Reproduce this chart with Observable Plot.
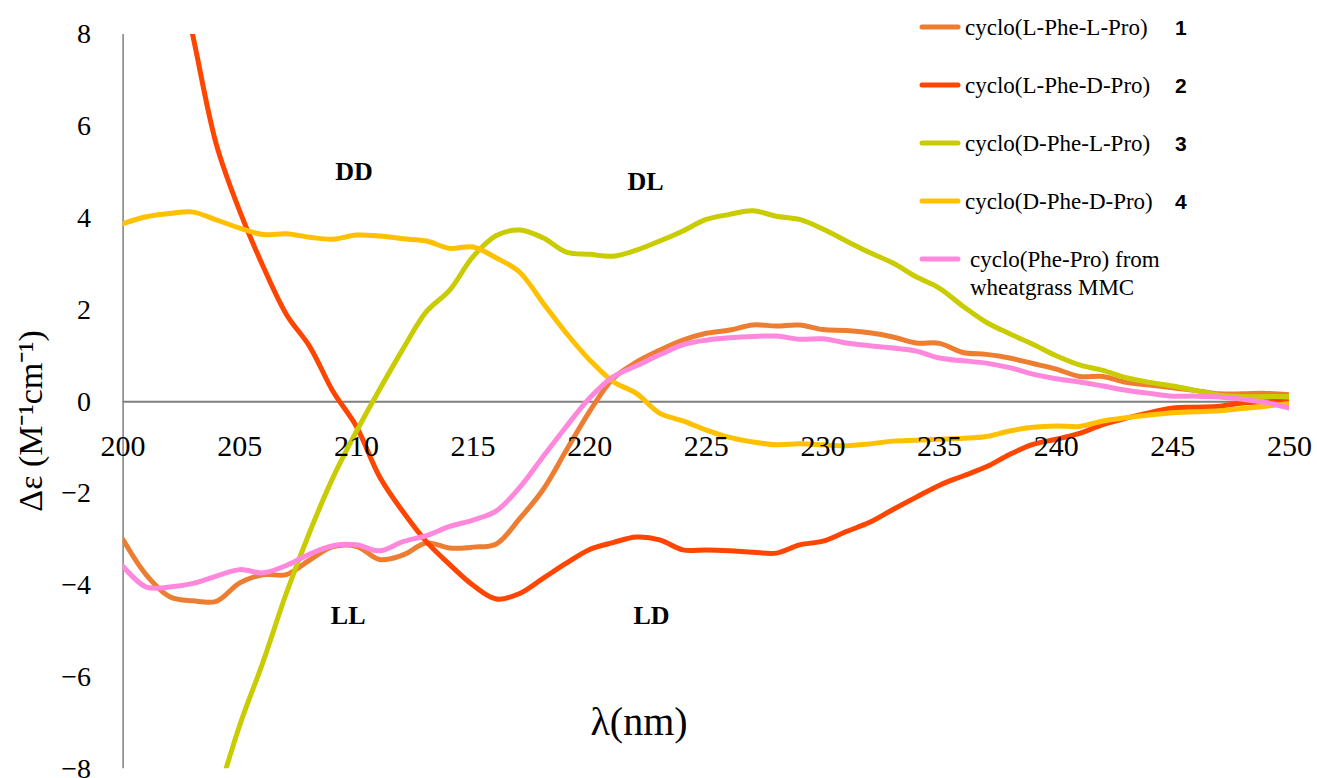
<!DOCTYPE html>
<html>
<head>
<meta charset="utf-8">
<script src="https://cdn.jsdelivr.net/npm/d3@7"></script>
<script src="https://cdn.jsdelivr.net/npm/@observablehq/plot@0.6"></script>
<style>
  html, body { margin: 0; padding: 0; background: #fff; }
  #chart { width: 1317px; height: 778px; }
</style>
</head>
<body>
<div id="chart"></div>
<script>
// ---- data ----
const wavelength = [200,201,202,203,204,205,206,207,208,209,210,211,212,213,214,215,216,217,218,219,220,221,222,223,224,225,226,227,228,229,230,231,232,233,234,235,236,237,238,239,240,241,242,243,244,245,246,247,248,249,250];

const seriesNames = [
  "cyclo(L-Phe-L-Pro)",
  "cyclo(L-Phe-D-Pro)",
  "cyclo(D-Phe-L-Pro)",
  "cyclo(D-Phe-D-Pro)",
  "cyclo(Phe-Pro) from wheatgrass MMC"
];
const seriesNumbers = ["1", "2", "3", "4", ""];
const seriesColors = ["#ED7D31", "#FF4500", "#C9CC00", "#FFC000", "#FF88DD"];

const LL = [-3.01,-3.78,-4.25,-4.34,-4.35,-3.95,-3.77,-3.77,-3.45,-3.16,-3.15,-3.44,-3.34,-3.08,-3.19,-3.17,-3.10,-2.55,-1.92,-1.06,-0.21,0.50,0.86,1.12,1.34,1.49,1.56,1.67,1.65,1.67,1.57,1.55,1.50,1.41,1.28,1.27,1.07,1.03,0.95,0.83,0.71,0.55,0.55,0.42,0.36,0.30,0.24,0.17,0.17,0.18,0.15];
const LD = [15.0,12.6,10.3,7.95,5.6,4.15,2.95,1.9,1.2,0.22,-0.54,-1.64,-2.4,-3.05,-3.55,-4.0,-4.3,-4.18,-3.85,-3.52,-3.22,-3.07,-2.95,-3.01,-3.23,-3.23,-3.25,-3.28,-3.30,-3.12,-3.04,-2.83,-2.63,-2.35,-2.08,-1.82,-1.62,-1.42,-1.15,-0.93,-0.82,-0.69,-0.50,-0.36,-0.24,-0.14,-0.12,-0.10,-0.03,0.0,0.0];
const DL = [-17.0,-14.7,-12.5,-10.5,-8.7,-7.05,-5.67,-4.17,-2.84,-1.65,-0.65,0.27,1.15,1.96,2.43,3.16,3.62,3.74,3.57,3.26,3.21,3.17,3.30,3.50,3.72,3.97,4.08,4.16,4.04,3.97,3.76,3.50,3.25,3.02,2.72,2.47,2.08,1.73,1.48,1.25,1.00,0.80,0.68,0.52,0.42,0.34,0.24,0.14,0.11,0.11,0.11];
const DD = [3.88,4.03,4.10,4.13,3.96,3.78,3.64,3.66,3.58,3.54,3.63,3.61,3.55,3.50,3.34,3.37,3.13,2.82,2.15,1.49,0.91,0.44,0.18,-0.25,-0.42,-0.62,-0.78,-0.88,-0.94,-0.92,-0.94,-0.96,-0.92,-0.86,-0.84,-0.82,-0.80,-0.76,-0.64,-0.56,-0.53,-0.54,-0.42,-0.35,-0.29,-0.24,-0.22,-0.20,-0.15,-0.10,-0.04];
const MMC = [-3.59,-4.04,-4.04,-3.96,-3.80,-3.66,-3.73,-3.57,-3.32,-3.14,-3.12,-3.25,-3.05,-2.92,-2.72,-2.58,-2.38,-1.87,-1.20,-0.54,0.08,0.54,0.78,1.02,1.24,1.34,1.39,1.42,1.43,1.36,1.37,1.28,1.22,1.17,1.10,0.95,0.89,0.84,0.74,0.60,0.50,0.43,0.34,0.25,0.18,0.12,0.12,0.10,0.05,-0.02,-0.14];

const xTicks = [200,205,210,215,220,225,230,235,240,245,250];
const yTicks = [-8,-6,-4,-2,0,2,4,6,8];

const regionText = ["DD", "DL", "LL", "LD"];
const regionX = [209.9, 222.4, 209.65, 222.65];
const regionY = [5.02, 4.80, -4.66, -4.66];

// ---- build tidy table ----
const valueArrays = [LL, LD, DL, DD, MMC];
const table = [];
valueArrays.forEach((arr, si) => {
  arr.forEach((v, i) => table.push({series: seriesNames[si], idx: si, x: wavelength[i], y: v}));
});
const regions = regionText.map((t, i) => ({text: t, x: regionX[i], y: regionY[i]}));
const fmt = d => d < 0 ? "\u2212" + Math.abs(d) : String(d);

const W = 1317, H = 778;
const serif = "'Liberation Serif', 'Times New Roman', serif";

const chart = Plot.plot({
  width: W,
  height: H,
  marginLeft: 122.6,
  marginRight: 28,
  marginTop: 34,
  marginBottom: 9.7,
  x: {domain: [200, 250], axis: null},
  y: {domain: [-8, 8], axis: null},
  color: {domain: seriesNames, range: seriesColors},
  style: {fontFamily: serif, background: "#fff", overflow: "visible"},
  marks: [
    Plot.ruleX([200], {y1: -8, y2: 8, stroke: "#7f7f7f", strokeWidth: 1.5}),
    Plot.ruleY([0], {stroke: "#7f7f7f", strokeWidth: 2}),
    ...seriesNames.map((name, si) =>
      Plot.line(table.filter(d => d.idx === si), {
        x: "x", y: "y", stroke: seriesColors[si], strokeWidth: 5,
        curve: "catmull-rom", clip: true, strokeLinejoin: "round", strokeLinecap: "round"
      })
    ),
    Plot.text(yTicks, {x: 200, y: d => d, text: fmt, dx: -32, textAnchor: "end",
      fontSize: 28, fill: "#000", lineAnchor: "middle"}),
    Plot.text(xTicks, {x: d => d, y: 0, text: d => String(d), dy: 45,
      fontSize: 30, fill: "#000", lineAnchor: "middle"}),
    Plot.text(regions, {x: "x", y: "y", text: "text", fontSize: 26, fontWeight: "bold",
      fill: "#000", lineAnchor: "middle"})
  ]
});

document.getElementById("chart").appendChild(chart);

// ---- legend and axis titles ----
const svg = d3.select(chart);
const legendRows = [27, 85, 143, 201, 259];
const lg = svg.append("g").attr("text-anchor", "start");
seriesNames.forEach((name, i) => {
  const cy = legendRows[i];
  lg.append("line").attr("x1", 922).attr("x2", 958).attr("y1", cy).attr("y2", cy)
    .attr("stroke", seriesColors[i]).attr("stroke-width", 5).attr("stroke-linecap", "round");
  if (i < 4) {
    lg.append("text").attr("x", 965).attr("y", cy + 8).attr("font-family", serif)
      .attr("text-anchor", "start")
      .attr("font-size", 23).attr("fill", "#000").text(name);
    lg.append("text").attr("x", 1175).attr("y", cy + 8)
      .attr("text-anchor", "start")
      .attr("font-family", "'Liberation Sans', Arial, sans-serif").attr("font-weight", "bold")
      .attr("font-size", 21).attr("fill", "#000").text(seriesNumbers[i]);
  } else {
    lg.append("text").attr("x", 970).attr("y", cy + 8).attr("font-family", serif)
      .attr("text-anchor", "start")
      .attr("font-size", 23).attr("fill", "#000").text("cyclo(Phe-Pro) from");
    lg.append("text").attr("x", 970).attr("y", cy + 36).attr("font-family", serif)
      .attr("text-anchor", "start")
      .attr("font-size", 23).attr("fill", "#000").text("wheatgrass MMC");
  }
});

svg.append("text").attr("x", 639).attr("y", 735).attr("text-anchor", "middle")
  .attr("font-family", serif).attr("font-size", 40).attr("fill", "#000").text("λ(nm)");

svg.append("text").attr("transform", "translate(42,421) rotate(-90)").attr("text-anchor", "middle")
  .attr("font-family", serif).attr("font-size", 34).attr("fill", "#000").text("Δε (M⁻¹cm⁻¹)");
</script>
</body>
</html>
